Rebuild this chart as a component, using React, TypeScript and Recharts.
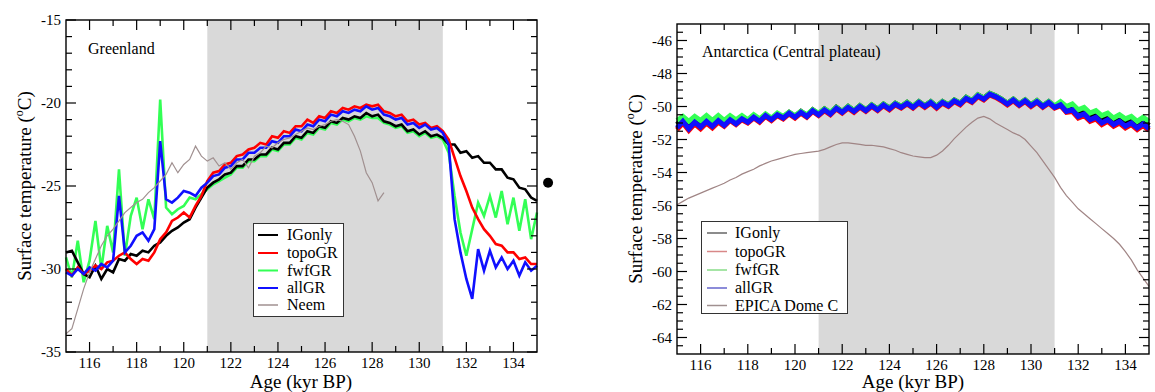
// Surface temperature, Greenland vs Antarctica (Central plateau)
import React from 'react';
import { LineChart, Line, XAxis, YAxis, ReferenceArea, ReferenceDot } from 'recharts';

const FONT = "'Liberation Serif', 'Times New Roman', serif";

// Age grid (kyr BP), shared by both panels
const AGES = [
  115, 115.25, 115.5, 115.75, 116, 116.25, 116.5, 116.75, 117, 117.25, 117.5, 117.75,
  118, 118.25, 118.5, 118.75, 119, 119.25, 119.5, 119.75, 120, 120.25, 120.5, 120.75,
  121, 121.25, 121.5, 121.75, 122, 122.25, 122.5, 122.75, 123, 123.25, 123.5, 123.75,
  124, 124.25, 124.5, 124.75, 125, 125.25, 125.5, 125.75, 126, 126.25, 126.5, 126.75,
  127, 127.25, 127.5, 127.75, 128, 128.25, 128.5, 128.75, 129, 129.25, 129.5, 129.75,
  130, 130.25, 130.5, 130.75, 131, 131.25, 131.5, 131.75, 132, 132.25, 132.5, 132.75,
  133, 133.25, 133.5, 133.75, 134, 134.25, 134.5, 134.75, 135,
];

// ---------- Greenland ----------
const GL_IGONLY = [
  -29.0, -28.9, -29.6, -30.3, -30.5, -29.8, -30.6, -30.0, -30.2, -29.4, -29.5, -29.1,
  -29.2, -28.9, -29.0, -28.6, -28.4, -28.0, -27.7, -27.5, -27.2, -27.0, -26.3, -25.7,
  -25.1, -24.8, -24.6, -24.3, -24.2, -23.8, -23.8, -23.4, -23.4, -23.1, -23.1, -22.7,
  -22.8, -22.4, -22.4, -22.0, -22.1, -21.7, -21.8, -21.4, -21.5, -21.1, -21.2, -20.9,
  -21.0, -20.8, -20.9, -20.6, -20.8, -20.7, -21.1, -21.2, -21.4, -21.3, -21.7, -21.6,
  -21.9, -21.7, -22.0, -21.9, -22.1, -22.5, -22.5, -23.0, -22.9, -23.3, -23.2, -23.6,
  -23.6, -24.0, -24.0, -24.5, -24.6, -25.1, -25.2, -25.7, -25.9,
];
const GL_TOPOGR = [
  -30.0, -30.4, -29.9, -30.3, -30.1, -29.8, -30.0, -29.6, -29.5, -29.2, -29.0, -29.4,
  -29.7, -29.4, -29.5, -29.0, -28.2, -27.8, -27.1, -26.9, -26.6, -26.9, -26.2, -25.6,
  -24.7, -24.2, -24.1, -23.7, -23.6, -23.2, -23.1, -22.8, -22.7, -22.4, -22.5, -22.0,
  -22.1, -21.7, -21.8, -21.4, -21.4, -21.0, -21.2, -20.8, -20.9, -20.5, -20.6, -20.3,
  -20.4, -20.2, -20.3, -20.1, -20.2, -20.1, -20.5, -20.6, -20.8, -20.7, -21.1, -21.0,
  -21.3, -21.2, -21.5, -21.4, -21.7, -22.2, -23.3, -24.4, -25.3, -26.3, -27.0, -27.6,
  -28.0, -28.5, -28.6, -29.0, -29.0, -29.4, -29.3, -29.7, -29.7,
];
const GL_FWFGR = [
  -29.3, -30.5, -28.3, -30.8, -29.5, -27.1, -30.0, -27.4, -29.0, -24.0, -29.2, -26.8,
  -25.7, -27.6, -25.8, -27.0, -19.8, -26.3, -26.7, -26.4, -26.2, -25.7, -25.8, -25.5,
  -25.2, -24.9, -24.7, -24.5, -24.3, -23.9, -23.9, -23.5, -23.5, -23.2, -23.2, -22.8,
  -22.9, -22.5, -22.5, -22.1, -22.2, -21.8, -21.9, -21.5, -21.6, -21.2, -21.3, -21.0,
  -21.1, -20.9, -21.0, -20.8, -20.9, -20.9, -21.2, -21.3, -21.5, -21.4, -21.8, -21.7,
  -22.0, -21.8, -22.1, -22.0, -22.2, -23.0, -25.6, -27.8, -29.2, -27.6, -26.0, -26.8,
  -25.6, -26.9, -25.3, -27.3, -25.7, -27.7, -25.8, -28.2, -26.6,
];
const GL_ALLGR = [
  -30.2, -30.4, -30.0, -30.3, -29.9, -30.1, -29.7, -29.9, -29.5, -25.6, -29.0, -28.6,
  -28.0, -27.8, -28.3, -27.6, -22.3, -25.8, -26.0, -25.7, -25.3, -25.4, -25.6, -25.1,
  -24.8, -24.4, -24.3, -23.9, -23.8, -23.4, -23.4, -23.0, -23.0, -22.7, -22.7, -22.3,
  -22.4, -22.0, -22.0, -21.6, -21.7, -21.3, -21.4, -21.0, -21.1, -20.7, -20.8, -20.5,
  -20.6, -20.4, -20.5, -20.2, -20.4, -20.3, -20.7, -20.8, -21.0, -20.9, -21.3, -21.2,
  -21.5, -21.3, -21.6, -21.5, -21.8, -22.5, -27.0, -29.0, -30.6, -31.8, -28.8, -30.1,
  -28.9, -29.9, -29.3, -30.0, -29.5, -30.4, -29.6, -30.1, -29.8,
];
const GL_NEEM = [
  -33.9, -33.6, -32.4, -31.2, -30.2, -29.4, -28.6, -28.0, -27.6, -27.1, -26.6, -26.3,
  -26.0, -25.8, -25.4, -25.1, -24.7, -24.3, -23.6, -24.2, -23.7, -23.4, -22.6, -23.2,
  -23.5, -23.3, -23.8, -23.6, -24.0, -23.6, -23.4, -23.9, -23.2, -23.0, -22.6, -22.7,
  -22.4, -22.2, -22.1, -21.9, -21.7, -21.5, -21.6, -21.4, -21.3, -21.1, -21.0, -21.1,
  -21.3, -22.0, -22.9, -24.2, -24.8, -25.9, -25.4, null, null, null, null, null,
  null, null, null, null, null, null, null, null, null, null, null, null,
  null, null, null, null, null, null, null, null, null,
];
const GL_DOT_AGE = 135.47;
const GL_DOT_TEMP = -24.8;

// ---------- Antarctica ----------
const AN_IGONLY = [
  -51.1, -50.75, -51.15, -50.8, -51.05, -50.75, -51.0, -50.7, -50.95, -50.65, -50.9, -50.6,
  -50.85, -50.55, -50.8, -50.5, -50.75, -50.45, -50.65, -50.35, -50.6, -50.3, -50.55, -50.2,
  -50.45, -50.15, -50.4, -50.05, -50.3, -50.0, -50.25, -49.95, -50.2, -49.9, -50.15, -49.85,
  -50.1, -49.8, -50.0, -49.75, -50.0, -49.7, -49.95, -49.7, -50.0, -49.7, -49.9, -49.6,
  -49.8, -49.45, -49.65, -49.3, -49.5, -49.2, -49.35, -49.55, -49.8, -49.55, -49.85, -49.6,
  -49.9, -49.65, -49.95, -49.7, -50.0, -49.8, -50.15, -50.05, -50.4, -50.25, -50.6, -50.45,
  -50.8, -50.6, -50.9, -50.7, -51.0, -50.8, -51.1, -50.85, -51.15,
];
const AN_TOPOGR = [
  -51.4, -51.0, -51.45, -51.05, -51.35, -51.0, -51.3, -50.95, -51.2, -50.85, -51.1, -50.8,
  -51.0, -50.7, -50.95, -50.6, -50.85, -50.55, -50.75, -50.45, -50.7, -50.4, -50.65, -50.3,
  -50.55, -50.25, -50.5, -50.15, -50.4, -50.1, -50.35, -50.05, -50.3, -50.0, -50.25, -49.95,
  -50.2, -49.9, -50.1, -49.85, -50.1, -49.8, -50.05, -49.8, -50.1, -49.8, -50.0, -49.7,
  -49.9, -49.55, -49.75, -49.4, -49.6, -49.3, -49.45, -49.65, -49.9, -49.65, -49.95, -49.7,
  -50.0, -49.75, -50.05, -49.8, -50.1, -49.95, -50.35, -50.3, -50.7, -50.55, -50.9, -50.75,
  -51.1, -50.9, -51.2, -51.0, -51.3, -51.1, -51.4, -51.15, -51.45,
];
const AN_FWFGR = [
  -50.85, -50.6, -50.9, -50.6, -50.85, -50.55, -50.85, -50.55, -50.85, -50.55, -50.8, -50.55,
  -50.8, -50.5, -50.75, -50.45, -50.7, -50.4, -50.6, -50.35, -50.55, -50.3, -50.5, -50.2,
  -50.4, -50.15, -50.35, -50.05, -50.3, -50.0, -50.25, -49.95, -50.2, -49.9, -50.15, -49.85,
  -50.1, -49.8, -50.0, -49.75, -50.0, -49.7, -49.95, -49.7, -50.0, -49.7, -49.9, -49.6,
  -49.8, -49.45, -49.65, -49.3, -49.5, -49.2, -49.35, -49.55, -49.8, -49.55, -49.85, -49.6,
  -49.9, -49.65, -49.95, -49.7, -49.95, -49.7, -50.0, -49.85, -50.2, -50.05, -50.4, -50.25,
  -50.55, -50.4, -50.7, -50.5, -50.75, -50.6, -50.9, -50.65, -50.9,
];
const AN_ALLGR = [
  -51.3, -50.9, -51.35, -50.95, -51.25, -50.9, -51.2, -50.85, -51.15, -50.8, -51.05, -50.75,
  -50.95, -50.65, -50.9, -50.55, -50.8, -50.5, -50.7, -50.4, -50.65, -50.35, -50.6, -50.25,
  -50.5, -50.2, -50.45, -50.1, -50.35, -50.05, -50.3, -50.0, -50.25, -49.95, -50.2, -49.9,
  -50.15, -49.85, -50.05, -49.8, -50.05, -49.75, -50.0, -49.75, -50.05, -49.75, -49.95, -49.65,
  -49.85, -49.5, -49.7, -49.35, -49.55, -49.25, -49.4, -49.6, -49.85, -49.6, -49.9, -49.65,
  -49.95, -49.7, -50.0, -49.75, -50.05, -49.9, -50.3, -50.2, -50.6, -50.45, -50.8, -50.65,
  -51.0, -50.8, -51.1, -50.9, -51.2, -51.0, -51.3, -51.05, -51.35,
];
const AN_EPICA = [
  -55.95, -55.75, -55.55, -55.4, -55.25, -55.1, -54.95, -54.8, -54.65, -54.45, -54.3, -54.1,
  -53.95, -53.8, -53.6, -53.45, -53.3, -53.2, -53.1, -53.0, -52.9, -52.85, -52.8, -52.75,
  -52.7, -52.6, -52.45, -52.3, -52.2, -52.2, -52.25, -52.3, -52.35, -52.35, -52.4, -52.45,
  -52.55, -52.65, -52.8, -52.9, -53.0, -53.05, -53.1, -53.1, -52.95, -52.7, -52.35, -51.95,
  -51.6, -51.25, -50.95, -50.7, -50.6, -50.75, -51.0, -51.2, -51.4, -51.6, -51.75, -52.0,
  -52.4, -52.8, -53.3, -53.8, -54.3, -54.9, -55.4, -55.8, -56.2, -56.5, -56.8, -57.1,
  -57.4, -57.7, -58.0, -58.35, -58.8, -59.3, -59.9, -60.4, -60.9,
];

// ---------- Ticks ----------
const X_DOMAIN = [115, 135];
const X_MAJOR = [116, 118, 120, 122, 124, 126, 128, 130, 132, 134];
const X_MINOR = [117, 119, 121, 123, 125, 127, 129, 131, 133];
const GL_Y_DOMAIN = [-35, -15];
const GL_Y_MAJOR = [-35, -30, -25, -20, -15];
const GL_Y_MINOR = [-34, -33, -32, -31, -29, -28, -27, -26, -24, -23, -22, -21, -19, -18, -17, -16];
const AN_Y_DOMAIN = [-65, -45];
const AN_Y_MAJOR = [-64, -62, -60, -58, -56, -54, -52, -50, -48, -46];
const AN_Y_MINOR = [
  -64.5, -63.5, -63, -62.5, -61.5, -61, -60.5, -59.5, -59, -58.5, -57.5, -57, -56.5, -55.5,
  -55, -54.5, -53.5, -53, -52.5, -51.5, -51, -50.5, -49.5, -49, -48.5, -47.5, -47, -46.5, -45.5,
];
const SHADE = [121, 131];

const GL_SERIES = [
  { key: 'fwfGR', data: GL_FWFGR, color: '#33ff55', width: 2.6 },
  { key: 'IGonly', data: GL_IGONLY, color: '#000000', width: 2.6 },
  { key: 'topoGR', data: GL_TOPOGR, color: '#ff0000', width: 2.6 },
  { key: 'allGR', data: GL_ALLGR, color: '#1010ff', width: 2.6 },
  { key: 'Neem', data: GL_NEEM, color: '#a09090', width: 1.2 },
];
const AN_SERIES = [
  { key: 'topoGR', data: AN_TOPOGR, color: '#ff0000', width: 5 },
  { key: 'IGonly', data: AN_IGONLY, color: '#000000', width: 5 },
  { key: 'fwfGR', data: AN_FWFGR, color: '#33ff55', width: 5 },
  { key: 'allGR', data: AN_ALLGR, color: '#1010ff', width: 5 },
  { key: 'EPICA', data: AN_EPICA, color: '#a08585', width: 1.2 },
];

type Series = { key: string; data: (number | null)[]; color: string; width: number };
type Row = Record<string, number | null>;
type Box = { x: number; y: number; w: number; h: number };

function buildRows(series: Series[]) {
  return AGES.map((age, i) => {
    const row: Row = { age };
    series.forEach((s) => {
      row[s.key] = s.data[i];
    });
    return row;
  });
}

// chart geometry (page px)
const CH_H = 392;
const GL_LAYOUT = { left: 0, width: 560, yWidth: 66, top: 20, right: 23, xHeight: 40 };
const AN_LAYOUT = { left: 590, width: 565, yWidth: 87, top: 24, right: 6, xHeight: 38 };
const plotBox = (L: typeof GL_LAYOUT): Box => ({
  x: L.left + L.yWidth,
  y: L.top,
  w: L.width - L.yWidth - L.right,
  h: CH_H - L.top - L.xHeight,
});

function Panel(props: { L: typeof GL_LAYOUT; series: Series[]; yDomain: number[]; yMajor: number[]; dot?: boolean }) {
  const { L, series, yDomain, yMajor, dot } = props;
  const rows = buildRows(series);
  return (
    <div style={{ position: 'absolute', left: L.left, top: 0 }}>
      <LineChart width={L.width} height={CH_H} data={rows} margin={{ top: L.top, right: L.right, bottom: 0, left: 0 }}>
        <XAxis xAxisId="b" dataKey="age" type="number" domain={X_DOMAIN} ticks={X_MAJOR} interval={0}
          orientation="bottom" height={L.xHeight} tick={false} axisLine={false} tickLine={false} />
        <YAxis yAxisId="l" type="number" domain={yDomain} ticks={yMajor} interval={0}
          orientation="left" width={L.yWidth} tick={false} axisLine={false} tickLine={false} />
        <ReferenceArea xAxisId="b" yAxisId="l" x1={SHADE[0]} x2={SHADE[1]} fill="#d9d9d9" fillOpacity={1} stroke="none" />
        {series.map((s) => (
          <Line
            key={s.key}
            xAxisId="b"
            yAxisId="l"
            type="linear"
            dataKey={s.key}
            stroke={s.color}
            strokeWidth={s.width}
            dot={false}
            activeDot={false}
            isAnimationActive={false}
            connectNulls={false}
          />
        ))}
        {dot ? (
          <ReferenceDot xAxisId="b" yAxisId="l" x={GL_DOT_AGE} y={GL_DOT_TEMP} r={5} fill="#000" stroke="none" ifOverflow="visible" />
        ) : null}
      </LineChart>
    </div>
  );
}

// Axis frame, inward ticks and tick labels (same linear mapping as the chart's plot box)
function Frame(props: { box: Box; yDomain: number[]; yMajor: number[]; yMinor: number[] }) {
  const { box, yDomain, yMajor, yMinor } = props;
  const sx = (v: number) => box.x + ((v - X_DOMAIN[0]) / (X_DOMAIN[1] - X_DOMAIN[0])) * box.w;
  const sy = (v: number) => box.y + ((yDomain[1] - v) / (yDomain[1] - yDomain[0])) * box.h;
  const bottom = box.y + box.h;
  const right = box.x + box.w;
  const ticks: React.ReactNode[] = [];
  X_MAJOR.forEach((v) => {
    const x = sx(v);
    ticks.push(<line key={`xb${v}`} x1={x} x2={x} y1={bottom} y2={bottom - 10} />);
    ticks.push(<line key={`xt${v}`} x1={x} x2={x} y1={box.y} y2={box.y + 10} />);
  });
  X_MINOR.forEach((v) => {
    const x = sx(v);
    ticks.push(<line key={`xbm${v}`} x1={x} x2={x} y1={bottom} y2={bottom - 6} />);
    ticks.push(<line key={`xtm${v}`} x1={x} x2={x} y1={box.y} y2={box.y + 6} />);
  });
  yMajor.forEach((v) => {
    const y = sy(v);
    ticks.push(<line key={`yl${v}`} x1={box.x} x2={box.x + 10} y1={y} y2={y} />);
    ticks.push(<line key={`yr${v}`} x1={right} x2={right - 10} y1={y} y2={y} />);
  });
  yMinor.forEach((v) => {
    const y = sy(v);
    ticks.push(<line key={`ylm${v}`} x1={box.x} x2={box.x + 6} y1={y} y2={y} />);
    ticks.push(<line key={`yrm${v}`} x1={right} x2={right - 6} y1={y} y2={y} />);
  });
  return (
    <g>
      <g stroke="#000" strokeWidth={1.2}>{ticks}</g>
      <rect x={box.x} y={box.y} width={box.w} height={box.h} fill="none" stroke="#000" strokeWidth={1.4} />
      {X_MAJOR.map((v) => (
        <text key={`xl${v}`} x={sx(v)} y={bottom + 16} fontSize={15} textAnchor="middle" fill="#000">{v}</text>
      ))}
      {yMajor.map((v) => (
        <text key={`yl${v}`} x={box.x - 5} y={sy(v) + 5} fontSize={15} textAnchor="end" fill="#000">{v}</text>
      ))}
    </g>
  );
}

function LegendBox(props: {
  x: number; y: number; w: number; h: number; lineX: number; textX: number; rows: number[];
  items: { label: string; color: string; width: number }[];
}) {
  const { x, y, w, h, lineX, textX, rows, items } = props;
  return (
    <g>
      <rect x={x} y={y} width={w} height={h} fill="#fff" stroke="#333" strokeWidth={1} />
      {items.map((it, i) => (
        <g key={it.label}>
          <line x1={lineX} x2={lineX + 20} y1={rows[i]} y2={rows[i]} stroke={it.color} strokeWidth={it.width} />
          <text x={textX} y={rows[i] + 5} fontSize={16} fill="#000">{it.label}</text>
        </g>
      ))}
    </g>
  );
}

export default function App() {
  const glBox = plotBox(GL_LAYOUT);
  const anBox = plotBox(AN_LAYOUT);
  return (
    <div style={{ position: 'absolute', left: 0, top: 0, width: 1155, height: 392, background: '#fff', fontFamily: FONT }}>
      <Panel L={GL_LAYOUT} series={GL_SERIES} yDomain={GL_Y_DOMAIN} yMajor={GL_Y_MAJOR} dot />
      <Panel L={AN_LAYOUT} series={AN_SERIES} yDomain={AN_Y_DOMAIN} yMajor={AN_Y_MAJOR} />
      <svg width={1155} height={392} style={{ position: 'absolute', left: 0, top: 0, pointerEvents: 'none', fontFamily: FONT }}>
        <Frame box={glBox} yDomain={GL_Y_DOMAIN} yMajor={GL_Y_MAJOR} yMinor={GL_Y_MINOR} />
        <Frame box={anBox} yDomain={AN_Y_DOMAIN} yMajor={AN_Y_MAJOR} yMinor={AN_Y_MINOR} />
        <text x={88} y={54} fontSize={16} fill="#000">Greenland</text>
        <text x={702} y={57} fontSize={16} fill="#000">Antarctica (Central plateau)</text>
        <text x={301} y={388} fontSize={19} textAnchor="middle" fill="#000">Age (kyr BP)</text>
        <text x={913} y={388} fontSize={19} textAnchor="middle" fill="#000">Age (kyr BP)</text>
        <text x={31} y={186} fontSize={19} textAnchor="middle" fill="#000" transform="rotate(-90 31 186)">
          Surface temperature (<tspan dy={-8} fontSize={12}>o</tspan><tspan dy={8}>C)</tspan>
        </text>
        <text x={642} y={189} fontSize={19} textAnchor="middle" fill="#000" transform="rotate(-90 642 189)">
          Surface temperature (<tspan dy={-8} fontSize={12}>o</tspan><tspan dy={8}>C)</tspan>
        </text>
        <LegendBox x={253.5} y={223.5} w={90} h={93} lineX={258} textX={287} rows={[235, 253, 270.5, 288, 305]}
          items={[
            { label: 'IGonly', color: '#000', width: 2 },
            { label: 'topoGR', color: '#ff0000', width: 2 },
            { label: 'fwfGR', color: '#33ff55', width: 2 },
            { label: 'allGR', color: '#1010ff', width: 2 },
            { label: 'Neem', color: '#a09090', width: 1.5 },
          ]} />
        <LegendBox x={701.5} y={221.5} w={146} h={92} lineX={707} textX={735} rows={[233, 251.5, 270, 288, 305.5]}
          items={[
            { label: 'IGonly', color: '#666', width: 1.5 },
            { label: 'topoGR', color: '#d88888', width: 1.5 },
            { label: 'fwfGR', color: '#88dd88', width: 1.5 },
            { label: 'allGR', color: '#6666cc', width: 1.5 },
            { label: 'EPICA Dome C', color: '#a09090', width: 1.5 },
          ]} />
      </svg>
    </div>
  );
}
